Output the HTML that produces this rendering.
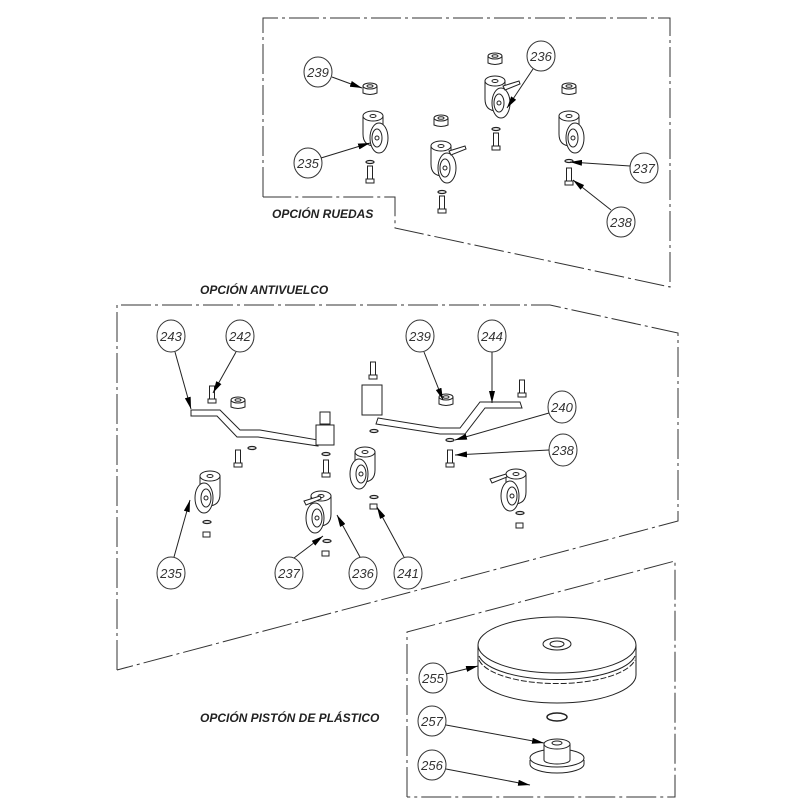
<!DOCTYPE html>
<html><head><meta charset="utf-8"><style>
html,body{margin:0;padding:0;background:#fff;}
svg{display:block}
text{font-family:"Liberation Sans",sans-serif;}
.lbl{font-size:13px;font-style:italic;fill:#333;text-anchor:middle}
.ttl{font-size:12px;font-style:italic;font-weight:bold;fill:#222}
</style></head><body>
<svg width="800" height="800" viewBox="0 0 800 800" xmlns="http://www.w3.org/2000/svg">
<defs>
<marker id="ah" markerWidth="12" markerHeight="6" refX="12" refY="3" orient="auto" markerUnits="userSpaceOnUse">
<path d="M0,0 L12,3 L0,6 z" fill="#000"/></marker>
<g id="caster" fill="#fff" stroke="#222" stroke-width="1">
<path d="M-10,0 L-10,18 Q-10,30 2,30 L10,30 L10,0 z"/>
<ellipse cx="0" cy="0" rx="10" ry="5"/>
<ellipse cx="0" cy="0" rx="3" ry="1.5"/>
<ellipse cx="6" cy="22" rx="9" ry="15"/>
<ellipse cx="4" cy="22" rx="5" ry="9"/>
<circle cx="4" cy="22" r="2"/>
</g>
<g id="nut" fill="#fff" stroke="#222" stroke-width="1">
<path d="M-7,0 L-7,7 Q0,10 7,7 L7,0"/>
<ellipse cx="0" cy="0" rx="7" ry="3"/>
<ellipse cx="0" cy="0" rx="3" ry="1.3"/>
</g>
<g id="bolt" fill="#fff" stroke="#222" stroke-width="1">
<rect x="-2.5" y="0" width="5" height="13"/>
<rect x="-4" y="13" width="8" height="4"/>
</g>
<g id="washer" fill="none" stroke="#222" stroke-width="1.3">
<ellipse cx="0" cy="0" rx="4" ry="1.5"/>
</g>
<g id="brake" fill="#fff" stroke="#222" stroke-width="1">
<path d="M8,5 L24,0 L25,3 L10,9 z"/>
</g>
</defs>

<g fill="none" stroke="#333" stroke-width="1" stroke-dasharray="30,4,3,4">
<!-- top box -->
<path d="M263,197 L263,18 L670,18 L670,287 L395,228 L395,197 L263,197"/>
<!-- middle box -->
<path d="M117,670 L117,305 L550,305 L678,333 L678,521 L117,670"/>
<!-- bottom box -->
<path d="M407,797 L407,632 L675,561 L675,797 L407,797"/>
</g>

<!-- TOP SECTION parts -->
<use href="#nut" x="370" y="86"/>
<use href="#caster" x="373" y="116"/>
<use href="#washer" x="370" y="162"/>
<use href="#bolt" x="370" y="166"/>

<use href="#nut" x="441" y="118"/>
<use href="#caster" x="441" y="146"/>
<use href="#brake" x="441" y="146"/>
<use href="#washer" x="442" y="192"/>
<use href="#bolt" x="442" y="196"/>

<use href="#nut" x="495" y="56"/>
<use href="#caster" x="495" y="81"/>
<use href="#brake" x="495" y="81"/>
<use href="#washer" x="496" y="129"/>
<use href="#bolt" x="496" y="133"/>

<use href="#nut" x="569" y="86"/>
<use href="#caster" x="569" y="116"/>
<use href="#washer" x="569" y="161"/>
<use href="#bolt" x="569" y="168"/>

<!-- top labels -->
<g fill="#fff" stroke="#333" stroke-width="1">
<ellipse cx="318" cy="72" rx="14" ry="15"/>
<ellipse cx="308" cy="163" rx="14" ry="15"/>
<ellipse cx="541" cy="56" rx="14" ry="15"/>
<ellipse cx="644" cy="168" rx="14" ry="15"/>
<ellipse cx="621" cy="222" rx="14" ry="15"/>
</g>
<g stroke="#222" stroke-width="1" marker-end="url(#ah)">
<line x1="332" y1="77" x2="362" y2="88"/>
<line x1="321" y1="158" x2="370" y2="143"/>
<line x1="533" y1="69" x2="507" y2="108"/>
<line x1="630" y1="166" x2="570" y2="162"/>
<line x1="611" y1="210" x2="573" y2="180"/>
</g>
<text class="lbl" x="318" y="77">239</text>
<text class="lbl" x="308" y="168">235</text>
<text class="lbl" x="541" y="61">236</text>
<text class="lbl" x="644" y="173">237</text>
<text class="lbl" x="621" y="227">238</text>
<text class="ttl" x="272" y="218">OPCIÓN RUEDAS</text>

<!-- MIDDLE SECTION -->
<text class="ttl" x="200" y="294">OPCIÓN ANTIVUELCO</text>
<!-- bars -->
<g fill="#fff" stroke="#222" stroke-width="1">
<path d="M191,410 L220,410 L240,430 L260,430 L318,440 L318,446 L258,437 L237,437 L217,416 L191,416 z"/>
<rect x="316" y="425" width="18" height="20"/>
<rect x="320" y="412" width="10" height="12"/>
<path d="M378,418 L440,428 L460,428 L480,402 L520,402 L522,408 L485,408 L465,434 L440,434 L376,424 z"/>
<rect x="362" y="385" width="20" height="30"/>
</g>
<use href="#bolt" x="212" y="386"/>
<use href="#nut" x="238" y="400"/>
<use href="#bolt" x="373" y="362"/>
<use href="#nut" x="446" y="397"/>
<use href="#bolt" x="522" y="380"/>
<use href="#washer" x="252" y="448"/>
<use href="#bolt" x="238" y="450"/>
<use href="#washer" x="326" y="454"/>
<use href="#bolt" x="326" y="460"/>
<use href="#washer" x="374" y="431"/>
<use href="#washer" x="450" y="440"/>
<use href="#bolt" x="450" y="450"/>

<use href="#caster" x="210" y="476" transform="translate(420,0) scale(-1,1)"/>
<use href="#caster" x="321" y="496" transform="translate(642,0) scale(-1,1)"/>
<use href="#brake" x="296" y="496" transform="translate(0,0)"/>
<use href="#caster" x="365" y="452" transform="translate(730,0) scale(-1,1)"/>
<use href="#caster" x="516" y="474" transform="translate(1032,0) scale(-1,1)"/>
<use href="#brake" x="482" y="474"/>

<use href="#washer" x="207" y="522"/>
<rect x="203" y="532" width="7" height="5" fill="#fff" stroke="#222"/>
<use href="#washer" x="327" y="541"/>
<rect x="322" y="551" width="7" height="5" fill="#fff" stroke="#222"/>
<use href="#washer" x="374" y="497"/>
<rect x="370" y="504" width="7" height="5" fill="#fff" stroke="#222"/>
<use href="#washer" x="520" y="513"/>
<rect x="516" y="523" width="7" height="5" fill="#fff" stroke="#222"/>

<g fill="#fff" stroke="#333" stroke-width="1">
<ellipse cx="171" cy="336" rx="14" ry="16"/>
<ellipse cx="240" cy="336" rx="14" ry="16"/>
<ellipse cx="420" cy="336" rx="14" ry="16"/>
<ellipse cx="492" cy="336" rx="14" ry="16"/>
<ellipse cx="562" cy="407" rx="14" ry="16"/>
<ellipse cx="563" cy="450" rx="14" ry="16"/>
<ellipse cx="171" cy="573" rx="14" ry="16"/>
<ellipse cx="289" cy="573" rx="14" ry="16"/>
<ellipse cx="363" cy="573" rx="14" ry="16"/>
<ellipse cx="408" cy="573" rx="14" ry="16"/>
</g>
<g stroke="#222" stroke-width="1" marker-end="url(#ah)">
<line x1="175" y1="352" x2="191" y2="409"/>
<line x1="236" y1="352" x2="213" y2="393"/>
<line x1="424" y1="352" x2="443" y2="400"/>
<line x1="492" y1="352" x2="492" y2="403"/>
<line x1="549" y1="413" x2="455" y2="440"/>
<line x1="549" y1="450" x2="455" y2="455"/>
<line x1="174" y1="557" x2="190" y2="500"/>
<line x1="294" y1="558" x2="323" y2="536"/>
<line x1="360" y1="557" x2="337" y2="515"/>
<line x1="404" y1="557" x2="377" y2="507"/>
</g>
<text class="lbl" x="171" y="341">243</text>
<text class="lbl" x="240" y="341">242</text>
<text class="lbl" x="420" y="341">239</text>
<text class="lbl" x="492" y="341">244</text>
<text class="lbl" x="562" y="412">240</text>
<text class="lbl" x="563" y="455">238</text>
<text class="lbl" x="171" y="578">235</text>
<text class="lbl" x="289" y="578">237</text>
<text class="lbl" x="363" y="578">236</text>
<text class="lbl" x="408" y="578">241</text>

<!-- BOTTOM SECTION -->
<text class="ttl" x="200" y="722">OPCIÓN PISTÓN DE PLÁSTICO</text>
<g fill="#fff" stroke="#222" stroke-width="1">
<path d="M478,645 L478,675 A79,28 0 0 0 636,675 L636,645"/>
<ellipse cx="557" cy="645" rx="79" ry="28"/>
<ellipse cx="557" cy="644" rx="14" ry="6"/>
<ellipse cx="557" cy="644" rx="7" ry="3"/>
<path d="M479,656 A79,28 0 0 0 635,656" fill="none"/>
<path d="M479,660 A79,28 0 0 0 635,660" fill="none" stroke-dasharray="6,2"/>
<ellipse cx="557" cy="717" rx="10" ry="4" stroke-width="1.5"/>
<path d="M530,760 L530,764 A27,9 0 0 0 584,764 L584,760"/>
<ellipse cx="557" cy="758" rx="27" ry="9"/>
<path d="M544,744 L544,760 A13,4 0 0 0 570,760 L570,744"/>
<ellipse cx="557" cy="744" rx="13" ry="5"/>
<ellipse cx="557" cy="743" rx="5" ry="2"/>
</g>
<g fill="#fff" stroke="#333" stroke-width="1">
<ellipse cx="433" cy="678" rx="14" ry="15"/>
<ellipse cx="432" cy="721" rx="14" ry="15"/>
<ellipse cx="432" cy="765" rx="14" ry="15"/>
</g>
<g stroke="#222" stroke-width="1" marker-end="url(#ah)">
<line x1="446" y1="674" x2="478" y2="666"/>
<line x1="446" y1="725" x2="544" y2="743"/>
<line x1="446" y1="769" x2="530" y2="785"/>
</g>
<text class="lbl" x="433" y="683">255</text>
<text class="lbl" x="432" y="726">257</text>
<text class="lbl" x="432" y="770">256</text>
</svg>
</body></html>
